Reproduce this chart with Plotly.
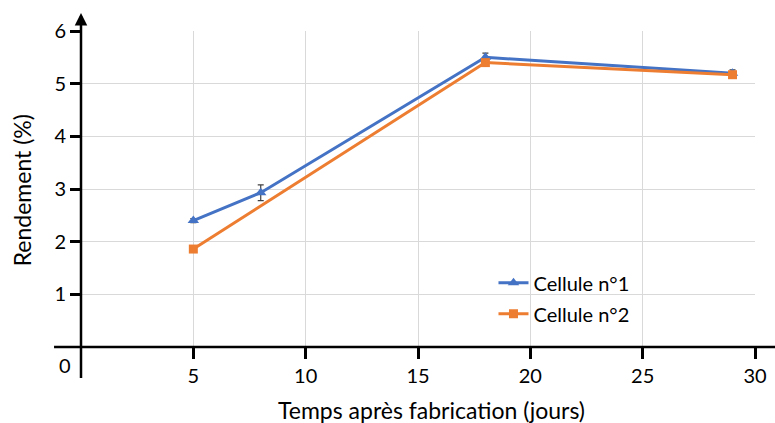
import plotly.graph_objects as go

# Data
days_c1 = [5, 8, 18, 29]
yield_c1 = [2.40, 2.93, 5.50, 5.20]
err_c1 = [0.04, 0.15, 0.08, 0.06]

days_c2 = [5, 18, 29]
yield_c2 = [1.86, 5.40, 5.17]
err_c2 = [0.04, 0.06, 0.06]

x_ticks = [5, 10, 15, 20, 25, 30]
y_ticks = [1, 2, 3, 4, 5, 6]

FONT = "Lato"
fig = go.Figure()
fig.add_trace(go.Scatter(
    x=days_c1, y=yield_c1, name="Cellule n°1", mode="lines+markers",
    line=dict(color="#4472C4", width=3),
    marker=dict(symbol="triangle-up", size=10, color="#4472C4"),
    error_y=dict(type="data", array=err_c1, color="#404040", thickness=1.2, width=3),
    legendgroup="a",
))
fig.add_trace(go.Scatter(
    x=days_c2, y=yield_c2, name="Cellule n°2", mode="lines+markers",
    line=dict(color="#ED7D31", width=3),
    marker=dict(symbol="square", size=9, color="#ED7D31"),
    error_y=dict(type="data", array=err_c2, color="#404040", thickness=1.2, width=3),
    legendgroup="b",
))

fig.update_layout(
    width=775, height=423,
    margin=dict(l=81, r=20, t=31, b=76, autoexpand=False),
    paper_bgcolor="white", plot_bgcolor="white",
    font=dict(family=FONT, size=20, color="black"),
    showlegend=True,
    legend=dict(x=0.612, y=0.265, xanchor="left", yanchor="top",
                font=dict(size=20), tracegroupgap=2, traceorder="grouped",
                bgcolor="rgba(0,0,0,0)"),
    xaxis=dict(range=[0, 30], tickvals=x_ticks, showgrid=True, gridcolor="#d9d9d9",
               gridwidth=1, zeroline=False, showline=False, ticks="outside",
               ticklen=11, tickwidth=2.5, tickcolor="black", automargin=False,
               tickfont=dict(size=20)),
    yaxis=dict(range=[0, 6], tickvals=y_ticks, showgrid=True, gridcolor="#d9d9d9",
               gridwidth=1, zeroline=False, showline=False, ticks="outside",
               ticklen=10, tickwidth=2.5, tickcolor="black", automargin=False,
               tickfont=dict(size=20)),
    shapes=[
        dict(type="line", xref="paper", yref="paper", x0=-0.04, x1=1.03, y0=0, y1=0,
             line=dict(color="black", width=2.5)),
        dict(type="line", xref="paper", yref="paper", x0=0, x1=0, y0=-0.098, y1=1.03,
             line=dict(color="black", width=2.5)),
    ],
    annotations=[
        dict(xref="paper", yref="paper", x=0, y=1.057, ax=0, ay=12, axref="pixel", ayref="pixel",
             showarrow=True, arrowhead=2, arrowsize=1, arrowwidth=2.5, arrowcolor="black", text=""),
        dict(xref="paper", yref="paper", x=-0.023, y=-0.057, xanchor="center", yanchor="middle",
             text="0", showarrow=False, font=dict(size=20)),
        dict(xref="paper", yref="paper", x=0.52, y=-0.2, xanchor="center", yanchor="middle",
             text="Temps après fabrication (jours)", showarrow=False, font=dict(size=23)),
        dict(xref="paper", yref="paper", x=-0.087, y=0.497, xanchor="center", yanchor="middle",
             text="Rendement (%)", textangle=-90, showarrow=False, font=dict(size=23)),
    ],
)

fig.write_html("out.html", config={"displayModeBar": False},
               post_script="document.body.style.margin='0px';")
